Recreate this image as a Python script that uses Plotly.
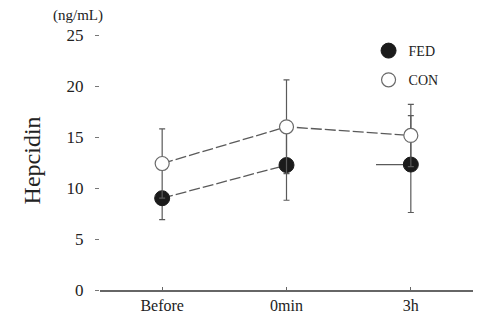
import plotly.graph_objects as go

categories = ["Before", "0min", "3h"]
x_pos = [0, 1, 2]
fed_mean = [9.0, 12.25, 12.3]
fed_err_plus = [0, 3.45, 4.8]
fed_err_minus = [2.1, 3.45, 4.7]
fed_lead = [0, 0, 0.28]  # short horizontal stub at 3h
con_mean = [12.4, 16.0, 15.15]
con_err = [3.4, 4.6, 3.05]
y_ticks = [0, 5, 10, 15, 20, 25]

LINE = "#5a5a5a"
FONT = "Liberation Serif, Times New Roman, serif"

# page body has an 8px default margin; compensate so the picture lines up
OFF = 8
W, H = 496 - OFF, 326 - OFF
ML, MT = 100 - OFF, 35 - OFF
MR = 23
MB = H - (293.3 - OFF)

fig = go.Figure()

fig.add_trace(go.Scatter(
    x=x_pos[:2], y=fed_mean[:2], mode="lines",
    line=dict(color=LINE, width=1.3, dash="11px,3px"),
    showlegend=False, hoverinfo="skip"))
fig.add_trace(go.Scatter(
    x=x_pos, y=con_mean, mode="lines",
    line=dict(color=LINE, width=1.3, dash="11px,3px"),
    showlegend=False, hoverinfo="skip"))

fig.add_trace(go.Scatter(
    x=x_pos, y=fed_mean, mode="markers", name="FED",
    legendgroup="fed",
    marker=dict(size=15, color="#1b1b1b", line=dict(color="#1b1b1b", width=1)),
    error_y=dict(type="data", symmetric=False, array=fed_err_plus,
                 arrayminus=fed_err_minus, color=LINE, thickness=1.2, width=3),
    error_x=dict(type="data", symmetric=False, array=[0, 0, 0],
                 arrayminus=fed_lead, color=LINE, thickness=1.3, width=0)))

fig.add_trace(go.Scatter(
    x=x_pos, y=con_mean, mode="markers", name="CON",
    legendgroup="con",
    marker=dict(size=14, color="white", line=dict(color="#6a6a6a", width=1.2)),
    error_y=dict(type="data", array=con_err, color=LINE, thickness=1.2, width=3)))

pw, ph = W - ML - MR, H - MT - MB


def px_to_paper(x, y):
    return (x - OFF - ML) / pw, (H - MB - (y - OFF)) / ph


ax1, ay1 = px_to_paper(78, 15)
ax2, ay2 = px_to_paper(32, 162)

fig.update_layout(
    width=W, height=H,
    margin=dict(l=ML, r=MR, t=MT, b=MB),
    paper_bgcolor="white", plot_bgcolor="white",
    font=dict(family=FONT, color="#222"),
    legend=dict(x=0.72, y=1.0, xanchor="left", yanchor="top",
                font=dict(size=14, family=FONT, color="#222"),
                bgcolor="rgba(0,0,0,0)", tracegroupgap=8),
    xaxis=dict(range=[-0.5, 2.5], tickvals=x_pos, ticktext=categories,
               showline=True, linecolor="#666", linewidth=1.5,
               ticks="inside", ticklen=3, tickcolor="#666",
               showgrid=False, zeroline=False,
               tickfont=dict(size=16, family=FONT, color="#222")),
    yaxis=dict(range=[0, 25], tickvals=y_ticks,
               showline=False, ticks="outside", ticklen=4, tickcolor="#777",
               ticklabelstandoff=8,
               showgrid=False, zeroline=False,
               tickfont=dict(size=17, family=FONT, color="#222")),
    annotations=[
        dict(text="(ng/mL)", x=ax1, y=ay1, xref="paper", yref="paper",
             xanchor="center", yanchor="middle",
             showarrow=False, font=dict(size=15, family=FONT, color="#222")),
        dict(text="Hepcidin", textangle=-90, x=ax2, y=ay2,
             xref="paper", yref="paper", xanchor="center", yanchor="middle",
             showarrow=False, font=dict(size=24, family=FONT, color="#222")),
    ],
)

fig.write_html("out.html")
